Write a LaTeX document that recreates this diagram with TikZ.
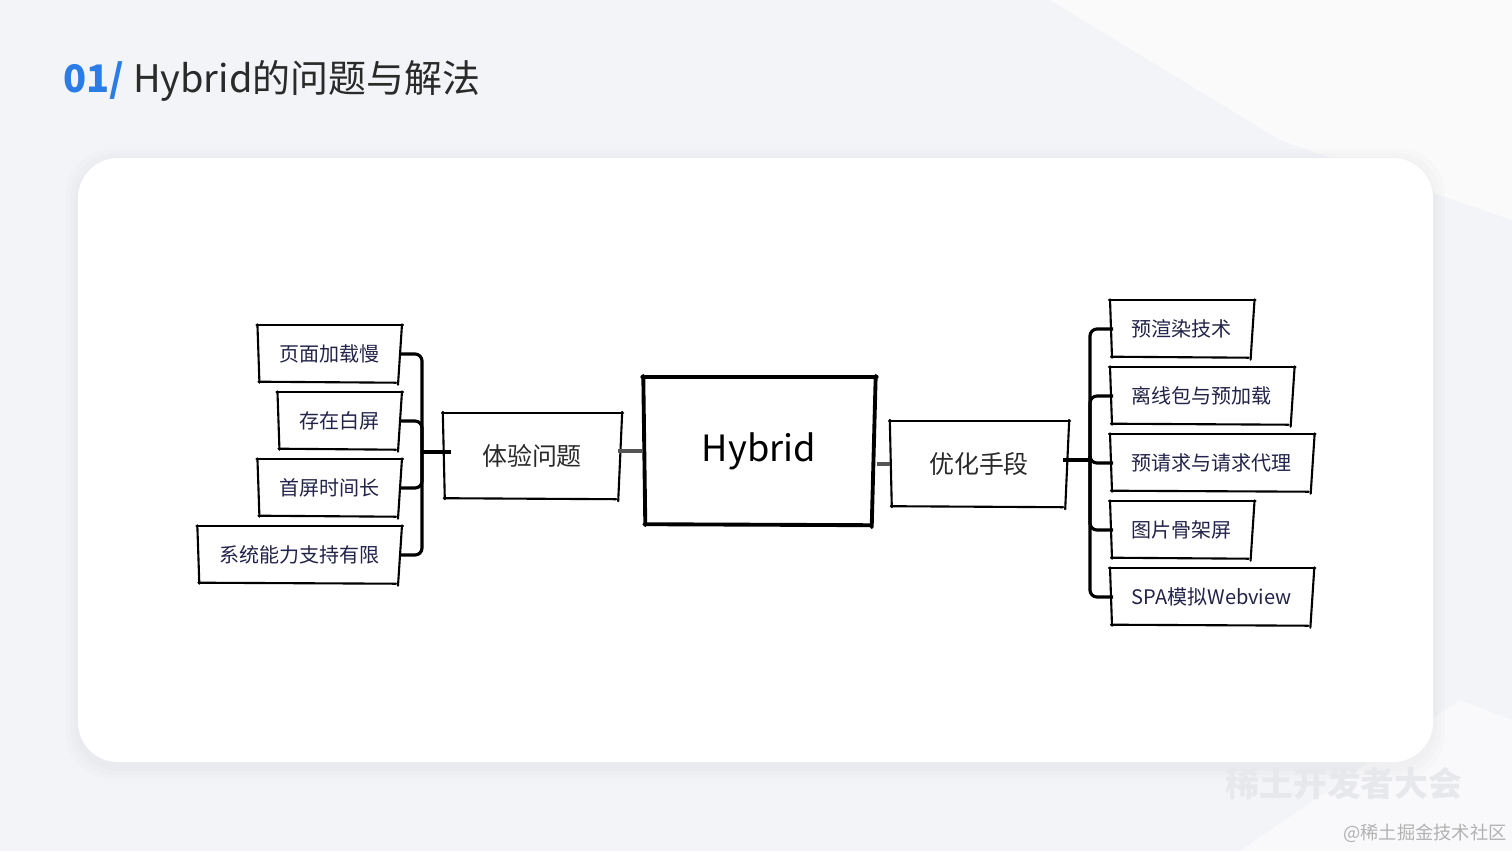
\documentclass[tikz,border=0pt]{standalone}
\usepackage{fontspec}
\setmainfont{Noto Sans CJK SC}
\usetikzlibrary{positioning}
\definecolor{fondo}{HTML}{F3F4F7}
\definecolor{azul}{HTML}{2A7DE6}
\definecolor{tinta}{HTML}{23234A}
\definecolor{oscuro}{HTML}{2A2A2A}
\definecolor{gris}{HTML}{555555}
\definecolor{marca}{HTML}{E6E8EC}
\tikzset{
  hoja/.style={inner xsep=0.21cm, inner ysep=0pt, minimum height=0.54cm, text=tinta, font=\fontsize{5.7}{6}\selectfont},
  tema/.style={minimum width=1.77cm, minimum height=0.83cm, text=oscuro, font=\fontsize{7.1}{8}\selectfont},
  raiz/.style={minimum width=2.3cm, minimum height=1.45cm, text=black, font=\fontsize{10.3}{12}\selectfont},
  trazo/.style={line width=0.6pt, line cap=round},
  grueso/.style={line width=1.1pt, line cap=round},
  rama/.style={line width=0.9pt, rounded corners=0.07cm},
  enlace/.style={line width=1.2pt, gris}
}
% borde dibujado a mano alzada
\newcommand{\boceto}[2][trazo]{%
  \draw[#1] ([shift={(-0.01,0.01)}]#2.north west) -- ([shift={(0.02,0.01)}]#2.north east);
  \draw[#1] ([shift={(0.01,0.02)}]#2.north east) -- ([shift={(-0.03,-0.03)}]#2.south east);
  \draw[#1] ([shift={(0.01,0.0)}]#2.south west) -- ([shift={(-0.05,-0.01)}]#2.south east);
  \draw[#1] ([shift={(0.0,0.02)}]#2.north west) -- ([shift={(0.02,-0.01)}]#2.south west);
}

\begin{document}
\begin{tikzpicture}
    \useasboundingbox (0,0) rectangle (15.12,-8.51);

    % Fondo
    \fill[fondo] (0,0) rectangle (15.12,-8.51);
    \fill[white, opacity=0.6] (10.5,0) -- (15.12,0) -- (15.12,-2.2) -- (12.8,-1.4) -- cycle;
    \fill[white, opacity=0.5] (12.4,-8.51) -- (14.6,-7.0) -- (15.12,-7.2) -- (15.12,-8.51) -- cycle;

    % Tarjeta
    \foreach \d in {0.12,0.08,0.04} {
      \fill[black, opacity=0.012, rounded corners=0.45cm] (0.78-\d,-1.58+\d-0.03) rectangle (14.33+\d,-7.62-\d-0.05);
    }
    \fill[white, rounded corners=0.4cm] (0.78,-1.58) rectangle (14.33,-7.62);

    % Titulo
    \node[anchor=base west, inner sep=0pt, text=oscuro, font=\fontsize{10.8}{12}\selectfont] (titulo) at (0.63,-0.92)
        {\textcolor{azul}{\bfseries 01/} Hybrid的问题与解法};

    % Centro
    \node[raiz] (hyb) at (7.59,-4.51) {Hybrid};
    \boceto[grueso]{hyb}

    % Rama izquierda
    \node[tema] (exp) at (5.32,-4.56) {体验问题};
    \boceto{exp}

    \node[hoja, anchor=east] (p1) at (4.01,-3.54) {页面加载慢};
    \node[hoja, anchor=east] (p2) at (4.01,-4.21) {存在白屏};
    \node[hoja, anchor=east] (p3) at (4.01,-4.88) {首屏时间长};
    \node[hoja, anchor=east] (p4) at (4.01,-5.55) {系统能力支持有限};
    \foreach \n in {p1,p2,p3,p4} {\boceto{\n}}

    % Rama derecha
    \node[tema] (opt) at (9.79,-4.64) {优化手段};
    \boceto{opt}

    \node[hoja, anchor=west] (s1) at (11.10,-3.29) {预渲染技术};
    \node[hoja, anchor=west] (s2) at (11.10,-3.96) {离线包与预加载};
    \node[hoja, anchor=west] (s3) at (11.10,-4.63) {预请求与请求代理};
    \node[hoja, anchor=west] (s4) at (11.10,-5.30) {图片骨架屏};
    \node[hoja, anchor=west] (s5) at (11.10,-5.97) {SPA模拟Webview};
    \foreach \n in {s1,s2,s3,s4,s5} {\boceto{\n}}

    % Nudos
    \coordinate (nudoL) at (4.22,-4.52);
    \coordinate (nudoR) at (10.90,-4.60);

    % Conectores izquierda
    \draw[rama] (p1.east) -| (nudoL);
    \draw[rama] (p2.east) -| (nudoL);
    \draw[rama] (p3.east) -| (nudoL);
    \draw[rama] (p4.east) -| (nudoL);
    \draw[rama] (nudoL) -- (nudoL -| exp.west) -- ++(0.08,0);

    % Conectores centro
    \draw[enlace] (exp.east |- hyb.west) ++(-0.03,0) -- (hyb.west);
    \draw[enlace] (hyb.east |- opt.west) ++(0.02,0) -- (opt.west);

    % Conectores derecha
    \draw[rama] (opt.east |- nudoR) ++(-0.05,0) -- (nudoR);
    \foreach \n in {s1,s2,s3,s4,s5} {
      \draw[rama] (nudoR) |- ([xshift=0.03cm]\n.west);
    }

    % Marca de agua
    \node[text=marca, font=\fontsize{9.6}{10}\selectfont\bfseries] (marca1) at (13.44,-7.84) {稀土开发者大会};
    \node[text=gray!60, font=\fontsize{5.2}{6}\selectfont] (marca2) at (14.25,-8.33) {@稀土掘金技术社区};
\end{tikzpicture}
\end{document}
